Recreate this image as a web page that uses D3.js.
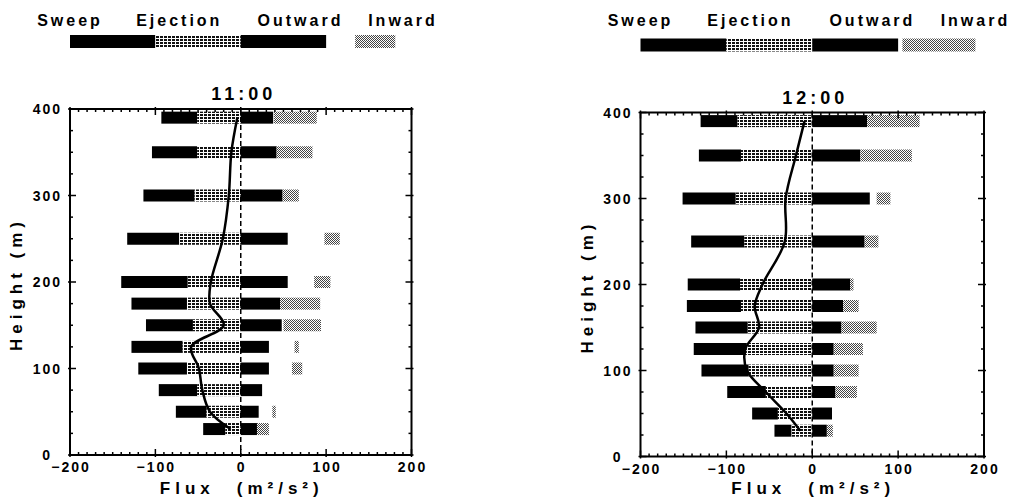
<!DOCTYPE html>
<html>
<head>
<meta charset="utf-8">
<script src="https://cdn.jsdelivr.net/npm/d3@7"></script>
<style>
  body { margin: 0; background: #fff; }
  text { font-family: "Liberation Sans", Arial, sans-serif; font-weight: bold; fill: #000; }
</style>
</head>
<body>
<div id="chart"></div>
<script>
// heights of the bar rows (m)
var heights = [390, 350, 300, 250, 200, 175, 150, 125, 100, 75, 50, 30];

// 11:00 components (m2/s2)
var sweep11    = [-42, -53, -60, -61, -78, -65, -55, -60, -57, -45, -36, -26];
var ejection11 = [-51, -51, -54, -72, -62, -63, -56, -68, -63, -51, -40, -18];
var outward11  = [38, 42, 49, 55, 55, 46, 48, 33, 33, 25, 21, 19];
var inwardLo11 = [39, 42, 49, 98, 86, 46, 50, 63, 60, null, 37, 19];
var inwardHi11 = [89, 84, 68, 116, 105, 93, 94, 68, 72, null, 41, 33];
var total11    = [-4, -11, -14, -21, -35, -36, -20, -58, -49, -45, -36, -12];

// 12:00 components
var sweep12    = [-43, -49, -62, -62, -61, -63, -61, -61, -55, -45, -30, -20];
var ejection12 = [-87, -83, -89, -79, -84, -83, -75, -77, -74, -54, -40, -24];
var outward12  = [64, 56, 67, 61, 44, 36, 34, 25, 25, 27, 23, 17];
var inwardLo12 = [64, 56, 75, 61, 44, 36, 34, 25, 25, 27, null, 17];
var inwardHi12 = [125, 116, 91, 77, 48, 54, 75, 59, 54, 52, null, 24];
var total12    = [-9, -19, -31, -32, -58, -67, -62, -78, -76, -54, -30, -14];

var legendNames = ["Sweep", "Ejection", "Outward", "Inward"];
var legendAt = [-200, -72, 70, 190];
var xTicks = [-200, -100, 0, 100, 200];
var yTicks = [0, 100, 200, 300, 400];

var svg = d3.select("#chart").append("svg")
  .attr("width", 1020).attr("height", 498);

var defs = svg.append("defs");
// ejection: dark grid with white lines
var pe = defs.append("pattern").attr("id", "ejPat")
  .attr("patternUnits", "userSpaceOnUse").attr("width", 4).attr("height", 3);
pe.append("rect").attr("width", 4).attr("height", 3).attr("fill", "#fff");
pe.append("rect").attr("width", 3).attr("height", 2).attr("fill", "#111");
// inward: light stipple
var pi = defs.append("pattern").attr("id", "inPat")
  .attr("patternUnits", "userSpaceOnUse").attr("width", 2).attr("height", 2);
pi.append("rect").attr("width", 2).attr("height", 2).attr("fill", "#fff");
pi.append("rect").attr("width", 1).attr("height", 1).attr("fill", "#444");
pi.append("rect").attr("x", 1).attr("y", 1).attr("width", 1).attr("height", 1).attr("fill", "#444");

function drawPanel(p) {
  var x = d3.scaleLinear().domain([-200, 200]).range([p.left, p.right]);
  var y = d3.scaleLinear().domain([0, 400]).range([p.bottom, p.top]);
  var g = svg.append("g");
  var bh = 12;

  var rows = heights.map(function(h, i) {
    return {h: h, sw: p.sweep[i], ej: p.ejection[i], out: p.outward[i],
            lo: p.inLo[i], hi: p.inHi[i]};
  });

  // sweep (stacked beyond ejection)
  g.selectAll(".sw").data(rows).enter().append("rect")
    .attr("x", function(d) { return x(d.ej + d.sw); })
    .attr("width", function(d) { return x(d.ej) - x(d.ej + d.sw); })
    .attr("y", function(d) { return y(d.h) - bh / 2; })
    .attr("height", bh).attr("fill", "#000");
  // ejection
  g.selectAll(".ej").data(rows).enter().append("rect")
    .attr("x", function(d) { return x(d.ej); })
    .attr("width", function(d) { return x(0) - x(d.ej); })
    .attr("y", function(d) { return y(d.h) - bh / 2; })
    .attr("height", bh).attr("fill", "url(#ejPat)");
  // outward
  g.selectAll(".ou").data(rows).enter().append("rect")
    .attr("x", x(0))
    .attr("width", function(d) { return x(d.out) - x(0); })
    .attr("y", function(d) { return y(d.h) - bh / 2; })
    .attr("height", bh).attr("fill", "#000");
  // inward
  g.selectAll(".in").data(rows.filter(function(d) { return d.lo != null; })).enter().append("rect")
    .attr("x", function(d) { return x(d.lo); })
    .attr("width", function(d) { return x(d.hi) - x(d.lo); })
    .attr("y", function(d) { return y(d.h) - bh / 2; })
    .attr("height", bh).attr("fill", "url(#inPat)");

  // zero line
  g.append("line").attr("x1", x(0)).attr("x2", x(0))
    .attr("y1", y(400)).attr("y2", y(0))
    .attr("stroke", "#000").attr("stroke-width", 1.5).attr("stroke-dasharray", "5,3");

  // total flux curve
  var line = d3.line()
    .x(function(d, i) { return x(p.total[i]); })
    .y(function(d) { return y(d); })
    .curve(d3.curveCatmullRom.alpha(0.5));
  g.append("path").datum(heights).attr("d", line)
    .attr("fill", "none").attr("stroke", "#000").attr("stroke-width", 2.5);

  // frame
  g.append("rect").attr("x", p.left).attr("y", p.top)
    .attr("width", p.right - p.left).attr("height", p.bottom - p.top)
    .attr("fill", "none").attr("stroke", "#000").attr("stroke-width", 2);

  // ticks
  d3.range(-200, 201, 10).forEach(function(v) {
    var major = v % 100 === 0;
    var len = major ? 6 : 3;
    g.append("line").attr("x1", x(v)).attr("x2", x(v))
      .attr("y1", p.bottom + (major ? 2 : 0)).attr("y2", p.bottom - len)
      .attr("stroke", "#000").attr("stroke-width", 1.5);
    g.append("line").attr("x1", x(v)).attr("x2", x(v))
      .attr("y1", p.top - (major ? 2 : 0)).attr("y2", p.top + len)
      .attr("stroke", "#000").attr("stroke-width", 1.5);
  });
  d3.range(0, 401, 25).forEach(function(v) {
    var major = v % 100 === 0;
    var len = major ? 6 : 3;
    g.append("line").attr("y1", y(v)).attr("y2", y(v))
      .attr("x1", p.left - (major ? 2 : 0)).attr("x2", p.left + len)
      .attr("stroke", "#000").attr("stroke-width", 1.5);
    g.append("line").attr("y1", y(v)).attr("y2", y(v))
      .attr("x1", p.right + (major ? 2 : 0)).attr("x2", p.right - len)
      .attr("stroke", "#000").attr("stroke-width", 1.5);
  });

  // tick labels
  g.selectAll(".xl").data(xTicks).enter().append("text")
    .attr("x", function(d) { return x(d) + 1; })
    .attr("y", p.bottom + 17)
    .attr("text-anchor", "middle")
    .style("font-size", "14px").style("letter-spacing", "2px")
    .text(function(d) { return d < 0 ? "\u2212" + (-d) : d; });
  g.selectAll(".yl").data(yTicks).enter().append("text")
    .attr("x", function(d) { return d === 0 ? p.left - 18 : p.left - 8; })
    .attr("y", function(d) { return y(d) + 5; })
    .attr("text-anchor", "end")
    .style("font-size", "14px").style("letter-spacing", "2px")
    .text(function(d) { return d; });

  // axis titles
  var xt = g.append("text").attr("x", x(0) + 1).attr("y", 494)
    .attr("text-anchor", "middle")
    .style("font-size", "17px").style("letter-spacing", "5px");
  xt.append("tspan").text("Flux");
  xt.append("tspan").attr("dx", 22).text("(m\u00b2/s\u00b2)");

  g.append("text")
    .attr("transform", "translate(" + (p.left - 48) + "," + ((p.top + p.bottom) / 2 + 2) + ") rotate(-90)")
    .attr("text-anchor", "middle")
    .style("font-size", "17px").style("letter-spacing", "5px")
    .text("Height  (m)");

  // title
  g.append("text").attr("x", x(0) + 3).attr("y", p.top - 9)
    .attr("text-anchor", "middle")
    .style("font-size", "18px").style("letter-spacing", "4px")
    .text(p.title);

  // legend
  g.selectAll(".lg").data(legendNames).enter().append("text")
    .attr("x", function(d, i) { return x(legendAt[i]); })
    .attr("y", 26)
    .attr("text-anchor", "middle")
    .style("font-size", "16px").style("letter-spacing", "3px")
    .text(function(d) { return d; });
  var ly = p.top - 74;
  g.append("rect").attr("x", x(-200)).attr("width", x(-100) - x(-200))
    .attr("y", ly).attr("height", 13).attr("fill", "#000");
  g.append("rect").attr("x", x(-100)).attr("width", x(0) - x(-100))
    .attr("y", ly).attr("height", 13).attr("fill", "url(#ejPat)");
  g.append("rect").attr("x", x(0)).attr("width", x(100) - x(0))
    .attr("y", ly).attr("height", 13).attr("fill", "#000");
  g.append("rect").attr("x", x(p.legIn[0])).attr("width", x(p.legIn[1]) - x(p.legIn[0]))
    .attr("y", ly).attr("height", 13).attr("fill", "url(#inPat)");
}

drawPanel({title: "11:00", left: 70, right: 411.5, top: 109, bottom: 455,
  sweep: sweep11, ejection: ejection11, outward: outward11,
  inLo: inwardLo11, inHi: inwardHi11, total: total11, legIn: [134, 181]});
drawPanel({title: "12:00", left: 640.5, right: 984, top: 112.5, bottom: 456.5,
  sweep: sweep12, ejection: ejection12, outward: outward12,
  inLo: inwardLo12, inHi: inwardHi12, total: total12, legIn: [105, 190]});
</script>
</body>
</html>
